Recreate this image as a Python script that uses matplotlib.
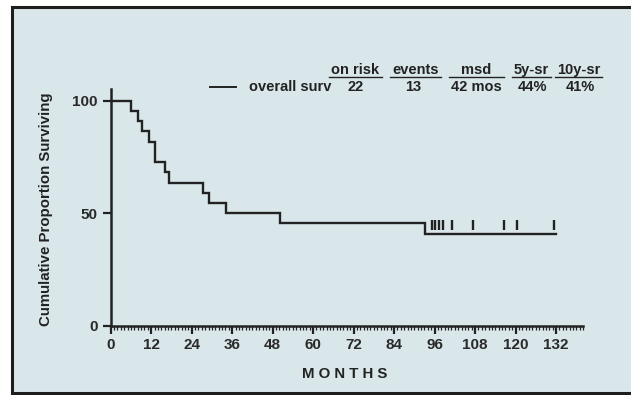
import matplotlib
matplotlib.use("Agg")
import matplotlib.pyplot as plt
from matplotlib.patches import Rectangle
from matplotlib.lines import Line2D
from matplotlib.ticker import MultipleLocator

# Kaplan-Meier step data (months, % surviving)
event_times = [0, 6.1, 8.2, 9.4, 11.3, 13.1, 16.0, 17.3, 27.3, 29.1, 34.2, 50.2, 93.2]
surv_pct = [100, 95.5, 90.9, 86.4, 81.8, 72.7, 68.2, 63.6, 59.1, 54.5, 50.0, 45.5, 40.9]
end_time = 132
censor_times = [95.1, 96.2, 97.4, 98.6, 101.3, 107.5, 116.7, 120.3, 131.4]
censor_level = 45

x_ticks = [0, 12, 24, 36, 48, 60, 72, 84, 96, 108, 120, 132]
y_ticks = [0, 50, 100]

legend_label = "overall surv"
table_headers = ["on risk", "events", "msd", "5y-sr", "10y-sr"]
table_values = ["22", "13", "42 mos", "44%", "41%"]

W, H = 631, 395
BG = "#d9e7eb"
INK = "#222222"
plt.rcParams["font.family"] = ["Liberation Sans", "DejaVu Sans"]
plt.rcParams["font.weight"] = "bold"


def px(x, y):
    return x / W, 1 - y / H


fig = plt.figure(figsize=(W / 100, H / 100), dpi=100, facecolor="white")
fig.patches.append(Rectangle(px(12, 393), (W + 20) / W, 386 / H,
                             transform=fig.transFigure, facecolor=BG,
                             edgecolor="#1e1e1e", linewidth=2.2, zorder=-5))

ax = fig.add_axes([110.7 / W, (H - 325.7) / H, (583 - 110.7) / W, (325.7 - 89) / H])
ax.set_zorder(2)
ax.set_facecolor("none")
ax.set_xlim(0, 140)
ax.set_ylim(0, 105.3)

xs = event_times + [end_time]
ys = surv_pct + [surv_pct[-1]]
ax.step(xs, ys, where="post", color=INK, lw=1.7, solid_joinstyle="miter")
ax.plot(censor_times, [censor_level] * len(censor_times), ls="none",
        marker="|", markersize=7.8, markeredgewidth=1.7, color=INK)

for s in ["top", "right"]:
    ax.spines[s].set_visible(False)
for s in ["left", "bottom"]:
    ax.spines[s].set_linewidth(1.8)
    ax.spines[s].set_color(INK)

ax.set_xticks(x_ticks)
ax.set_yticks(y_ticks)
ax.xaxis.set_minor_locator(MultipleLocator(1))
ax.tick_params(axis="both", which="major", length=5.5, width=1.6, color=INK,
               labelsize=11, labelcolor="#2a2a2a")
ax.tick_params(axis="x", which="major", pad=3.5)
ax.tick_params(axis="y", which="major", pad=4)
ax.tick_params(axis="x", which="minor", length=2.8, width=0.9, color=INK)

fig.text(*px(46.5, 209), "Cumulative Proportion Surviving", rotation=90,
         ha="center", va="center", fontsize=10.8, fontweight="bold", color=INK)
fig.text(*px(345, 374), "M O N T H S", ha="center", va="center",
         fontsize=10.8, fontweight="bold", color=INK)

# legend / summary table
fig.add_artist(Line2D([210 / W, 236 / W], [1 - 87 / H] * 2, color=INK, lw=1.4))
fig.text(*px(249, 87), legend_label, ha="left", va="center",
         fontsize=10.5, color=INK)
head_spans = [(329, 382), (390, 441), (449, 504), (512, 551), (555, 602)]
val_cx = [356, 413, 476, 533, 580]
for (x0, x1), head, cx, val in zip(head_spans, table_headers, val_cx, table_values):
    fig.text(*px((x0 + x1) / 2, 70), head, ha="center", va="center",
             fontsize=10.5, color=INK)
    fig.add_artist(Line2D([x0 / W, x1 / W], [1 - 77 / H] * 2, color=INK, lw=1.0))
    fig.text(*px(cx, 87), val, ha="center", va="center",
             fontsize=10.5, color=INK)

fig.savefig("out.png", dpi=100, facecolor="white")
